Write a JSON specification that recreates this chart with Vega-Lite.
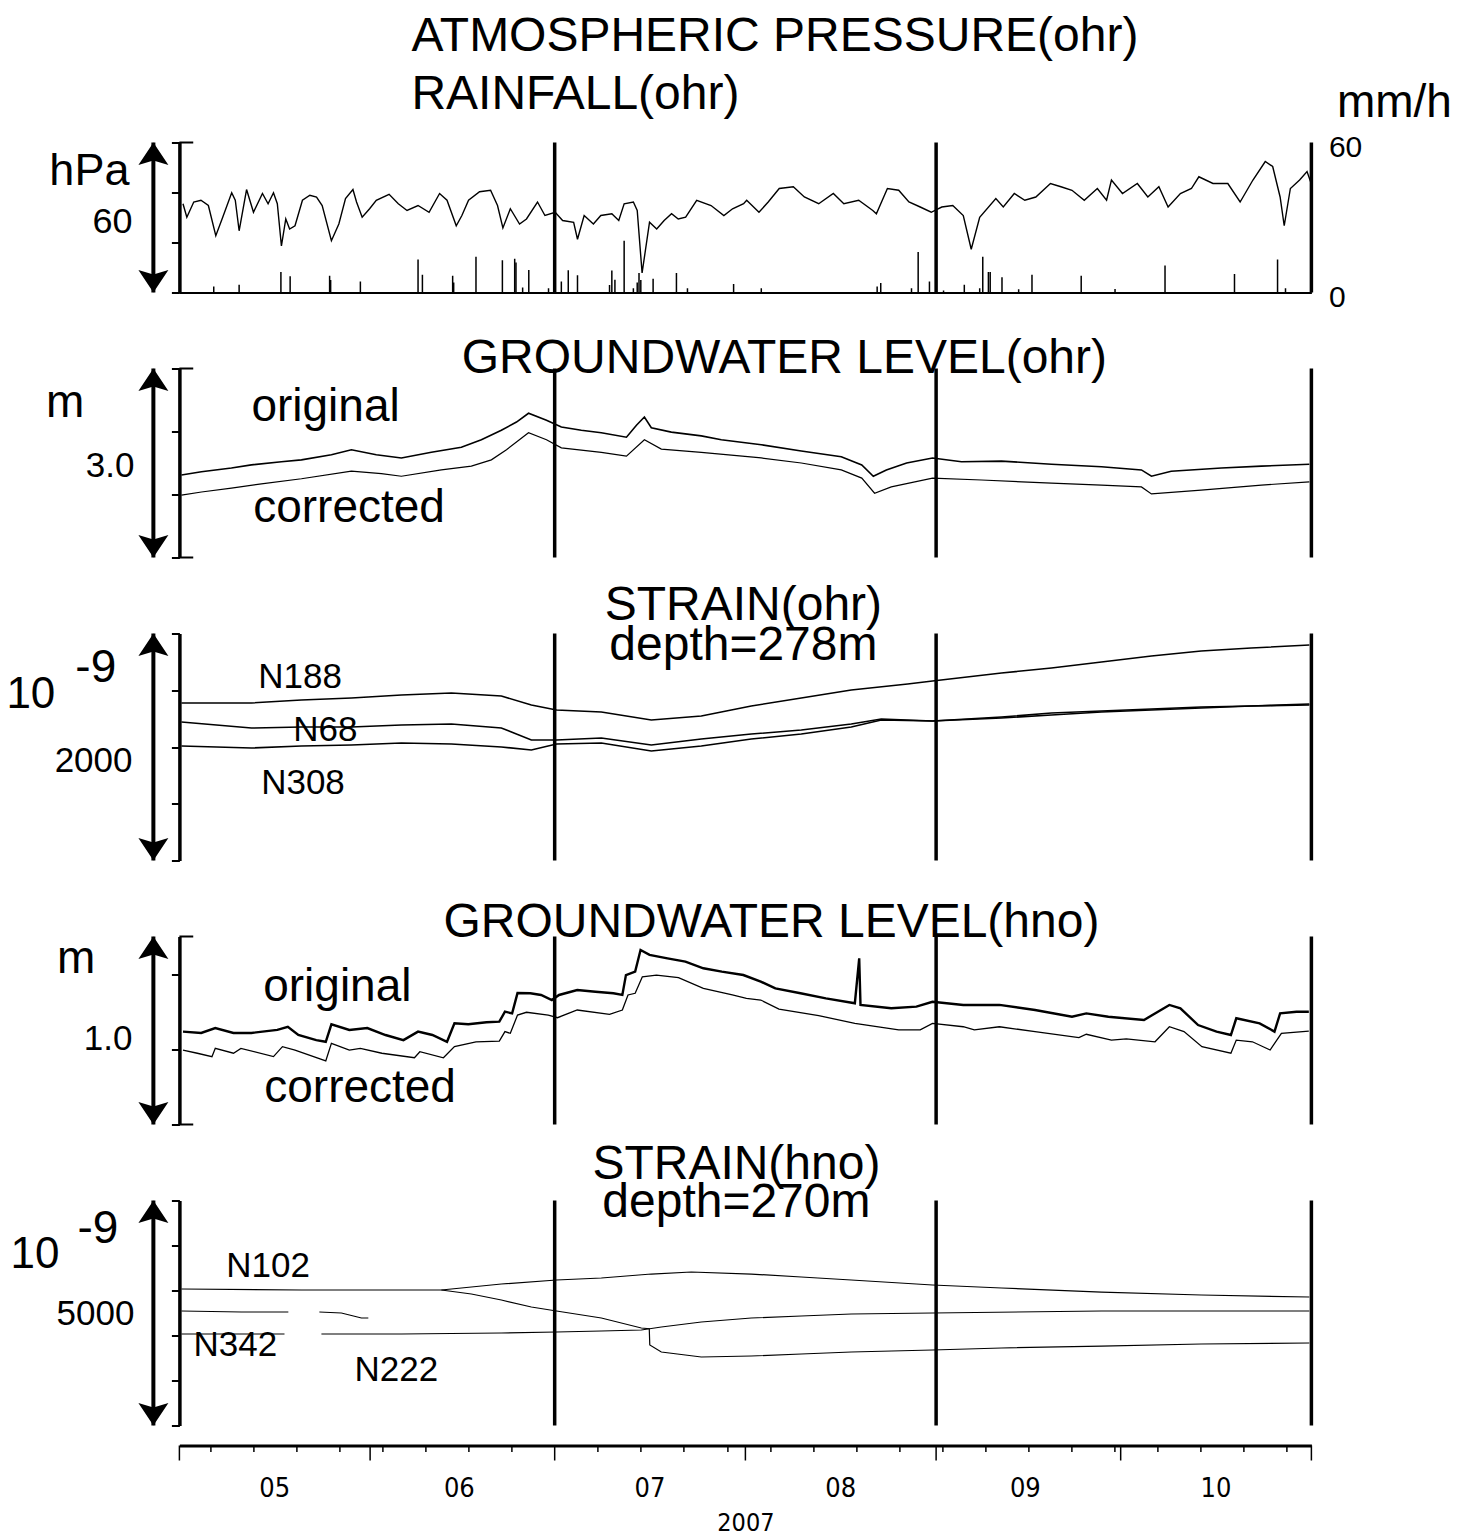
{
"$schema":"https://vega.github.io/schema/vega-lite/v6.json",
"background":"white",
"padding":{"left":5.4,"top":12.5,"right":5,"bottom":5},
"bounds":"flush",
"spacing":76,
"config":{
  "view":{"stroke":null},
  "font":"Liberation Sans",
  "title":{"font":"Liberation Sans","fontSize":48,"fontWeight":"normal","color":"black","frame":"group","baseline":"bottom","anchor":"middle"},
  "axis":{"grid":false,"domainColor":"black","tickColor":"black","labelColor":"black","titleColor":"black","labelFont":"Liberation Sans","titleFont":"Liberation Sans","titleFontWeight":"normal"},
  "axisLeft":{"labels":false,"tickSize":8,"tickWidth":2,"domainWidth":3.5},
  "text":{"color":"black","font":"Liberation Sans"},
  "line":{"color":"black"},
  "rule":{"color":"black"},
  "point":{"color":"black"}
},
"datasets":{
"vl":[{"t":"2007-07-01T00:00"},{"t":"2007-09-01T00:00"},{"t":"2007-11-01T00:00"}],
"mon":[{"t":"2007-05-01T00:00"},{"t":"2007-06-01T00:00"},{"t":"2007-07-01T00:00"},{"t":"2007-08-01T00:00"},{"t":"2007-09-01T00:00"},{"t":"2007-10-01T00:00"},{"t":"2007-11-01T00:00"}],
"mid":[{"t":"2007-05-16T12:00"},{"t":"2007-06-15T12:00"},{"t":"2007-07-16T12:00"},{"t":"2007-08-16T12:00"},{"t":"2007-09-15T12:00"},{"t":"2007-10-16T12:00"}],
"press":[
{"t":"2007-05-01T14:00","v":1005.5},{"t":"2007-05-02T05:00","v":1000.1},{"t":"2007-05-03T08:00","v":1006.2},{"t":"2007-05-04T12:00","v":1006.9},{"t":"2007-05-05T17:00","v":1004.8},{"t":"2007-05-06T22:00","v":992.7},{"t":"2007-05-08T01:00","v":1000.1},{"t":"2007-05-09T12:00","v":1009.9},{"t":"2007-05-10T02:00","v":1006.9},{"t":"2007-05-10T17:00","v":994.7},{"t":"2007-05-11T22:00","v":1011.2},{"t":"2007-05-13T01:00","v":1002.1},{"t":"2007-05-14T12:00","v":1009.6},{"t":"2007-05-15T10:00","v":1005.5},{"t":"2007-05-16T07:00","v":1009.9},{"t":"2007-05-16T22:00","v":1005.5},{"t":"2007-05-17T14:00","v":988.6},{"t":"2007-05-18T07:00","v":999.4},{"t":"2007-05-18T22:00","v":995.4},{"t":"2007-05-19T19:00","v":996.7},{"t":"2007-05-21T00:00","v":1006.9},{"t":"2007-05-22T05:00","v":1008.9},{"t":"2007-05-23T07:00","v":1008.2},{"t":"2007-05-24T05:00","v":1004.8},{"t":"2007-05-25T17:00","v":990.7},{"t":"2007-05-26T22:00","v":997.4},{"t":"2007-05-28T00:00","v":1007.6},{"t":"2007-05-29T05:00","v":1011.2},{"t":"2007-05-29T19:00","v":1006.2},{"t":"2007-05-30T17:00","v":1000.1},{"t":"2007-05-31T22:00","v":1003.5},
{"t":"2007-06-02T00:00","v":1006.9},{"t":"2007-06-04T02:00","v":1009.3},{"t":"2007-06-05T14:00","v":1005.5},{"t":"2007-06-07T00:00","v":1002.8},{"t":"2007-06-08T19:00","v":1004.8},{"t":"2007-06-10T14:00","v":1002.1},{"t":"2007-06-12T07:00","v":1009.6},{"t":"2007-06-13T12:00","v":1006.9},{"t":"2007-06-15T00:00","v":996.7},{"t":"2007-06-15T22:00","v":1000.8},{"t":"2007-06-17T00:00","v":1006.9},{"t":"2007-06-18T19:00","v":1010.3},{"t":"2007-06-20T14:00","v":1010.9},{"t":"2007-06-21T17:00","v":1004.8},{"t":"2007-06-22T14:00","v":995.8},{"t":"2007-06-23T19:00","v":1003.5},{"t":"2007-06-25T07:00","v":997.4},{"t":"2007-06-26T10:00","v":999.4},{"t":"2007-06-28T05:00","v":1006.2},{"t":"2007-06-29T10:00","v":1000.8},
{"t":"2007-07-01T02:00","v":1002.1},{"t":"2007-07-02T07:00","v":998.8},{"t":"2007-07-04T02:00","v":998.1},{"t":"2007-07-04T17:00","v":991.3},{"t":"2007-07-05T19:00","v":1000.8},{"t":"2007-07-07T07:00","v":997.4},{"t":"2007-07-08T12:00","v":1000.8},{"t":"2007-07-10T07:00","v":1001.5},{"t":"2007-07-11T10:00","v":998.8},{"t":"2007-07-12T07:00","v":1005.5},{"t":"2007-07-13T19:00","v":1006.2},{"t":"2007-07-14T10:00","v":1002.8},{"t":"2007-07-15T05:00","v":977.8},{"t":"2007-07-16T10:00","v":998.1},{"t":"2007-07-17T14:00","v":995.4},{"t":"2007-07-18T19:00","v":998.8},{"t":"2007-07-20T00:00","v":1001.5},{"t":"2007-07-21T02:00","v":999.4},{"t":"2007-07-22T07:00","v":1000.1},{"t":"2007-07-24T02:00","v":1006.9},{"t":"2007-07-26T10:00","v":1004.8},{"t":"2007-07-28T12:00","v":1000.8},{"t":"2007-07-29T22:00","v":1003.5},{"t":"2007-07-31T17:00","v":1005.5},
{"t":"2007-08-01T05:00","v":1006.9},{"t":"2007-08-03T05:00","v":1002.1},{"t":"2007-08-04T17:00","v":1006.2},{"t":"2007-08-06T12:00","v":1011.6},{"t":"2007-08-08T19:00","v":1012.3},{"t":"2007-08-10T14:00","v":1008.2},{"t":"2007-08-12T22:00","v":1005.5},{"t":"2007-08-15T07:00","v":1009.6},{"t":"2007-08-17T00:00","v":1005.5},{"t":"2007-08-19T10:00","v":1006.9},{"t":"2007-08-21T17:00","v":1002.8},{"t":"2007-08-22T07:00","v":1001.5},{"t":"2007-08-24T02:00","v":1011.6},{"t":"2007-08-25T22:00","v":1010.9},{"t":"2007-08-27T14:00","v":1006.2},{"t":"2007-08-29T10:00","v":1004.2},{"t":"2007-08-31T05:00","v":1002.1},
{"t":"2007-09-01T22:00","v":1004.2},{"t":"2007-09-03T17:00","v":1004.8},{"t":"2007-09-05T10:00","v":1000.8},{"t":"2007-09-06T17:00","v":987.3},{"t":"2007-09-08T02:00","v":1000.1},{"t":"2007-09-10T17:00","v":1007.6},{"t":"2007-09-11T22:00","v":1004.2},{"t":"2007-09-13T17:00","v":1009.6},{"t":"2007-09-15T10:00","v":1006.9},{"t":"2007-09-17T05:00","v":1008.2},{"t":"2007-09-19T14:00","v":1013.6},{"t":"2007-09-21T07:00","v":1012.3},{"t":"2007-09-23T02:00","v":1010.9},{"t":"2007-09-25T02:00","v":1006.9},{"t":"2007-09-27T05:00","v":1011.6},{"t":"2007-09-28T17:00","v":1006.9},{"t":"2007-09-29T12:00","v":1015},
{"t":"2007-10-01T07:00","v":1009.6},{"t":"2007-10-03T17:00","v":1013.6},{"t":"2007-10-05T10:00","v":1008.2},{"t":"2007-10-07T05:00","v":1012.3},{"t":"2007-10-08T17:00","v":1004.2},{"t":"2007-10-10T17:00","v":1009.6},{"t":"2007-10-12T12:00","v":1011.6},{"t":"2007-10-13T17:00","v":1016.3},{"t":"2007-10-16T00:00","v":1013.6},{"t":"2007-10-18T10:00","v":1013.6},{"t":"2007-10-20T10:00","v":1006.2},{"t":"2007-10-22T12:00","v":1015},{"t":"2007-10-24T12:00","v":1022.4},{"t":"2007-10-25T17:00","v":1020.4},{"t":"2007-10-26T22:00","v":1008.2},{"t":"2007-10-27T14:00","v":996.7},{"t":"2007-10-28T14:00","v":1011.6},{"t":"2007-10-30T02:00","v":1015},{"t":"2007-10-31T07:00","v":1018.4},{"t":"2007-10-31T22:00","v":1014}
],
"rain":[
{"t":"2007-05-06T14:00","v":2.4},{"t":"2007-05-10T17:00","v":3.1},{"t":"2007-05-17T12:00","v":8.2},{"t":"2007-05-19T00:00","v":6.5},{"t":"2007-05-25T10:00","v":6.7},{"t":"2007-05-25T14:00","v":5},{"t":"2007-05-30T10:00","v":4.4},{"t":"2007-06-08T19:00","v":13.2},{"t":"2007-06-09T12:00","v":7.1},{"t":"2007-06-14T10:00","v":6.7},{"t":"2007-06-14T14:00","v":4},{"t":"2007-06-18T05:00","v":14.3},{"t":"2007-06-22T12:00","v":12.9},{"t":"2007-06-24T12:00","v":13.5},{"t":"2007-06-24T17:00","v":12},{"t":"2007-06-25T19:00","v":2},{"t":"2007-06-26T19:00","v":9},{"t":"2007-06-30T00:00","v":1.7},{"t":"2007-07-02T02:00","v":4.4},{"t":"2007-07-03T05:00","v":8.9},{"t":"2007-07-04T17:00","v":6.9},{"t":"2007-07-09T22:00","v":3},{"t":"2007-07-10T07:00","v":8.8},{"t":"2007-07-10T19:00","v":5.1},{"t":"2007-07-12T07:00","v":20.7},{"t":"2007-07-13T19:00","v":1.7},{"t":"2007-07-14T10:00","v":4},{"t":"2007-07-14T17:00","v":7.8},{"t":"2007-07-15T00:00","v":5},{"t":"2007-07-17T00:00","v":5.5},{"t":"2007-07-20T19:00","v":7.8},{"t":"2007-07-22T14:00","v":1.7},{"t":"2007-07-30T02:00","v":3.4},{"t":"2007-08-03T14:00","v":1.7},{"t":"2007-08-22T10:00","v":2.4},{"t":"2007-08-23T00:00","v":3.8},{"t":"2007-08-28T00:00","v":1.7},{"t":"2007-08-29T02:00","v":16.2},{"t":"2007-08-30T22:00","v":4.4},{"t":"2007-09-02T05:00","v":0.8},{"t":"2007-09-05T14:00","v":3.1},{"t":"2007-09-08T02:00","v":1.7},{"t":"2007-09-08T14:00","v":14.3},{"t":"2007-09-09T12:00","v":8.2},{"t":"2007-09-09T19:00","v":8.2},{"t":"2007-09-11T17:00","v":6.1},{"t":"2007-09-14T10:00","v":1.3},{"t":"2007-09-16T14:00","v":7.1},{"t":"2007-09-24T14:00","v":6.7},{"t":"2007-09-30T02:00","v":1.4},{"t":"2007-10-08T05:00","v":10.8},{"t":"2007-10-19T12:00","v":7.4},{"t":"2007-10-26T12:00","v":13.2},{"t":"2007-10-27T19:00","v":1.7}
],
"gwo":[
{"s":"original","t":"2007-05-01T08:00","v":1.31},{"s":"original","t":"2007-05-04T14:00","v":1.36},{"s":"original","t":"2007-05-09T11:00","v":1.42},{"s":"original","t":"2007-05-12T17:00","v":1.47},{"s":"original","t":"2007-05-17T14:00","v":1.52},{"s":"original","t":"2007-05-20T20:00","v":1.55},{"s":"original","t":"2007-05-25T17:00","v":1.63},{"s":"original","t":"2007-05-28T23:00","v":1.71},{"s":"original","t":"2007-06-02T00:00","v":1.63},{"s":"original","t":"2007-06-06T02:00","v":1.58},{"s":"original","t":"2007-06-10T23:00","v":1.67},{"s":"original","t":"2007-06-15T20:00","v":1.75},{"s":"original","t":"2007-06-19T02:00","v":1.87},{"s":"original","t":"2007-06-22T08:00","v":2.02},{"s":"original","t":"2007-06-24T19:00","v":2.15},{"s":"original","t":"2007-06-26T18:00","v":2.29},{"s":"original","t":"2007-06-29T16:00","v":2.18},{"s":"original","t":"2007-07-02T02:00","v":2.07},{"s":"original","t":"2007-07-05T08:00","v":2.02},{"s":"original","t":"2007-07-08T14:00","v":1.98},{"s":"original","t":"2007-07-12T16:00","v":1.91},{"s":"original","t":"2007-07-14T07:00","v":2.10},{"s":"original","t":"2007-07-15T14:00","v":2.23},{"s":"original","t":"2007-07-16T17:00","v":2.06},{"s":"original","t":"2007-07-19T23:00","v":1.99},{"s":"original","t":"2007-07-24T20:00","v":1.93},{"s":"original","t":"2007-07-28T02:00","v":1.87},{"s":"original","t":"2007-08-03T14:00","v":1.79},{"s":"original","t":"2007-08-10T02:00","v":1.69},{"s":"original","t":"2007-08-16T14:00","v":1.60},{"s":"original","t":"2007-08-19T22:00","v":1.47},{"s":"original","t":"2007-08-21T19:00","v":1.29},{"s":"original","t":"2007-08-23T22:00","v":1.39},{"s":"original","t":"2007-08-27T05:00","v":1.50},{"s":"original","t":"2007-08-31T10:00","v":1.58},{"s":"original","t":"2007-09-05T03:00","v":1.52},{"s":"original","t":"2007-09-11T15:00","v":1.53},{"s":"original","t":"2007-09-19T18:00","v":1.48},{"s":"original","t":"2007-09-27T21:00","v":1.44},{"s":"original","t":"2007-10-04T09:00","v":1.39},{"s":"original","t":"2007-10-06T00:00","v":1.29},{"s":"original","t":"2007-10-09T05:00","v":1.37},{"s":"original","t":"2007-10-17T09:00","v":1.42},{"s":"original","t":"2007-10-23T21:00","v":1.45},{"s":"original","t":"2007-10-31T16:00","v":1.48},
{"s":"corrected","t":"2007-05-01T08:00","v":0.99},{"s":"corrected","t":"2007-05-04T14:00","v":1.04},{"s":"corrected","t":"2007-05-09T11:00","v":1.10},{"s":"corrected","t":"2007-05-14T08:00","v":1.17},{"s":"corrected","t":"2007-05-20T20:00","v":1.25},{"s":"corrected","t":"2007-05-28T23:00","v":1.37},{"s":"corrected","t":"2007-06-02T20:00","v":1.33},{"s":"corrected","t":"2007-06-06T02:00","v":1.29},{"s":"corrected","t":"2007-06-12T14:00","v":1.39},{"s":"corrected","t":"2007-06-17T11:00","v":1.45},{"s":"corrected","t":"2007-06-20T17:00","v":1.55},{"s":"corrected","t":"2007-06-23T04:00","v":1.71},{"s":"corrected","t":"2007-06-26T18:00","v":1.98},{"s":"corrected","t":"2007-06-29T16:00","v":1.87},{"s":"corrected","t":"2007-07-02T02:00","v":1.74},{"s":"corrected","t":"2007-07-08T14:00","v":1.67},{"s":"corrected","t":"2007-07-12T16:00","v":1.61},{"s":"corrected","t":"2007-07-15T14:00","v":1.87},{"s":"corrected","t":"2007-07-18T08:00","v":1.72},{"s":"corrected","t":"2007-07-24T20:00","v":1.67},{"s":"corrected","t":"2007-08-03T14:00","v":1.58},{"s":"corrected","t":"2007-08-10T02:00","v":1.50},{"s":"corrected","t":"2007-08-16T14:00","v":1.39},{"s":"corrected","t":"2007-08-19T22:00","v":1.26},{"s":"corrected","t":"2007-08-22T00:00","v":1.02},{"s":"corrected","t":"2007-08-24T17:00","v":1.12},{"s":"corrected","t":"2007-08-31T10:00","v":1.26},{"s":"corrected","t":"2007-09-08T09:00","v":1.23},{"s":"corrected","t":"2007-09-19T18:00","v":1.18},{"s":"corrected","t":"2007-09-27T21:00","v":1.15},{"s":"corrected","t":"2007-10-04T09:00","v":1.12},{"s":"corrected","t":"2007-10-06T00:00","v":1.01},{"s":"corrected","t":"2007-10-14T02:00","v":1.07},{"s":"corrected","t":"2007-10-23T21:00","v":1.15},{"s":"corrected","t":"2007-10-31T16:00","v":1.20}
],
"sto":[
{"s":"N188","t":"2007-05-01T08:00","v":1388},{"s":"N188","t":"2007-05-12T17:00","v":1388},{"s":"N188","t":"2007-05-20T20:00","v":1414},{"s":"N188","t":"2007-05-28T23:00","v":1432},{"s":"N188","t":"2007-06-06T02:00","v":1458},{"s":"N188","t":"2007-06-14T05:00","v":1476},{"s":"N188","t":"2007-06-22T08:00","v":1449},{"s":"N188","t":"2007-06-27T05:00","v":1370},{"s":"N188","t":"2007-07-01T07:00","v":1326},{"s":"N188","t":"2007-07-08T14:00","v":1308},{"s":"N188","t":"2007-07-16T17:00","v":1238},{"s":"N188","t":"2007-07-24T20:00","v":1273},{"s":"N188","t":"2007-08-01T23:00","v":1361},{"s":"N188","t":"2007-08-10T02:00","v":1432},{"s":"N188","t":"2007-08-18T05:00","v":1502},{"s":"N188","t":"2007-08-27T09:00","v":1555},{"s":"N188","t":"2007-08-31T10:00","v":1581},{"s":"N188","t":"2007-09-11T15:00","v":1652},{"s":"N188","t":"2007-09-19T18:00","v":1696},{"s":"N188","t":"2007-09-27T21:00","v":1749},{"s":"N188","t":"2007-10-06T00:00","v":1802},{"s":"N188","t":"2007-10-14T02:00","v":1846},{"s":"N188","t":"2007-10-22T05:00","v":1872},{"s":"N188","t":"2007-10-31T16:00","v":1899},
{"s":"N68","t":"2007-05-01T08:00","v":1220},{"s":"N68","t":"2007-05-12T17:00","v":1167},{"s":"N68","t":"2007-05-20T20:00","v":1176},{"s":"N68","t":"2007-05-28T23:00","v":1176},{"s":"N68","t":"2007-06-06T02:00","v":1194},{"s":"N68","t":"2007-06-14T05:00","v":1203},{"s":"N68","t":"2007-06-22T08:00","v":1167},{"s":"N68","t":"2007-06-27T05:00","v":1062},{"s":"N68","t":"2007-07-01T07:00","v":1062},{"s":"N68","t":"2007-07-08T14:00","v":1079},{"s":"N68","t":"2007-07-16T17:00","v":1018},{"s":"N68","t":"2007-07-24T20:00","v":1070},{"s":"N68","t":"2007-08-01T23:00","v":1114},{"s":"N68","t":"2007-08-10T02:00","v":1150},{"s":"N68","t":"2007-08-18T05:00","v":1203},{"s":"N68","t":"2007-08-23T02:00","v":1247},{"s":"N68","t":"2007-08-31T10:00","v":1229},{"s":"N68","t":"2007-09-11T15:00","v":1256},{"s":"N68","t":"2007-09-19T18:00","v":1282},{"s":"N68","t":"2007-09-27T21:00","v":1308},{"s":"N68","t":"2007-10-06T00:00","v":1326},{"s":"N68","t":"2007-10-14T02:00","v":1344},{"s":"N68","t":"2007-10-22T05:00","v":1361},{"s":"N68","t":"2007-10-31T16:00","v":1379},
{"s":"N308","t":"2007-05-01T08:00","v":1009},{"s":"N308","t":"2007-05-12T17:00","v":991},{"s":"N308","t":"2007-05-20T20:00","v":1009},{"s":"N308","t":"2007-05-28T23:00","v":1018},{"s":"N308","t":"2007-06-06T02:00","v":1035},{"s":"N308","t":"2007-06-14T05:00","v":1026},{"s":"N308","t":"2007-06-22T08:00","v":1000},{"s":"N308","t":"2007-06-27T05:00","v":974},{"s":"N308","t":"2007-07-01T07:00","v":1026},{"s":"N308","t":"2007-07-08T14:00","v":1035},{"s":"N308","t":"2007-07-16T17:00","v":965},{"s":"N308","t":"2007-07-24T20:00","v":1009},{"s":"N308","t":"2007-08-01T23:00","v":1070},{"s":"N308","t":"2007-08-10T02:00","v":1114},{"s":"N308","t":"2007-08-18T05:00","v":1176},{"s":"N308","t":"2007-08-23T02:00","v":1238},{"s":"N308","t":"2007-08-31T10:00","v":1229},{"s":"N308","t":"2007-09-11T15:00","v":1264},{"s":"N308","t":"2007-09-19T18:00","v":1299},{"s":"N308","t":"2007-09-27T21:00","v":1317},{"s":"N308","t":"2007-10-06T00:00","v":1335},{"s":"N308","t":"2007-10-14T02:00","v":1352},{"s":"N308","t":"2007-10-22T05:00","v":1361},{"s":"N308","t":"2007-10-31T16:00","v":1370}
],
"gwh":[
{"s":"original","t":"2007-05-01T14:00","v":0.494},{"s":"original","t":"2007-05-04T13:00","v":0.487},{"s":"original","t":"2007-05-06T20:00","v":0.513},{"s":"original","t":"2007-05-09T19:00","v":0.487},{"s":"original","t":"2007-05-12T17:00","v":0.487},{"s":"original","t":"2007-05-16T22:00","v":0.503},{"s":"original","t":"2007-05-18T15:00","v":0.520},{"s":"original","t":"2007-05-20T08:00","v":0.476},{"s":"original","t":"2007-05-23T06:00","v":0.449},{"s":"original","t":"2007-05-24T19:00","v":0.440},{"s":"original","t":"2007-05-25T17:00","v":0.533},{"s":"original","t":"2007-05-28T15:00","v":0.503},{"s":"original","t":"2007-05-31T13:00","v":0.513},{"s":"original","t":"2007-06-03T12:00","v":0.476},{"s":"original","t":"2007-06-06T10:00","v":0.449},{"s":"original","t":"2007-06-08T19:00","v":0.494},{"s":"original","t":"2007-06-11T03:00","v":0.476},{"s":"original","t":"2007-06-13T12:00","v":0.440},{"s":"original","t":"2007-06-14T17:00","v":0.538},{"s":"original","t":"2007-06-16T23:00","v":0.533},{"s":"original","t":"2007-06-19T22:00","v":0.544},{"s":"original","t":"2007-06-22T00:00","v":0.547},{"s":"original","t":"2007-06-22T22:00","v":0.600},{"s":"original","t":"2007-06-24T02:00","v":0.591},{"s":"original","t":"2007-06-24T23:00","v":0.699},{"s":"original","t":"2007-06-27T01:00","v":0.698},{"s":"original","t":"2007-06-28T19:00","v":0.689},{"s":"original","t":"2007-06-30T13:00","v":0.662},{"s":"original","t":"2007-07-01T17:00","v":0.689},{"s":"original","t":"2007-07-04T16:00","v":0.715},{"s":"original","t":"2007-07-07T15:00","v":0.706},{"s":"original","t":"2007-07-10T13:00","v":0.698},{"s":"original","t":"2007-07-12T00:00","v":0.689},{"s":"original","t":"2007-07-12T14:00","v":0.795},{"s":"original","t":"2007-07-14T02:00","v":0.813},{"s":"original","t":"2007-07-14T23:00","v":0.928},{"s":"original","t":"2007-07-16T10:00","v":0.902},{"s":"original","t":"2007-07-19T08:00","v":0.884},{"s":"original","t":"2007-07-22T06:00","v":0.866},{"s":"original","t":"2007-07-25T04:00","v":0.831},{"s":"original","t":"2007-07-28T04:00","v":0.813},{"s":"original","t":"2007-07-31T16:00","v":0.795},{"s":"original","t":"2007-08-03T12:00","v":0.760},{"s":"original","t":"2007-08-05T21:00","v":0.724},{"s":"original","t":"2007-08-09T23:00","v":0.698},{"s":"original","t":"2007-08-14T02:00","v":0.671},{"s":"original","t":"2007-08-18T19:00","v":0.645},{"s":"original","t":"2007-08-19T12:00","v":0.884},{"s":"original","t":"2007-08-19T17:00","v":0.636},{"s":"original","t":"2007-08-24T17:00","v":0.618},{"s":"original","t":"2007-08-28T19:00","v":0.627},{"s":"original","t":"2007-08-31T10:00","v":0.653},{"s":"original","t":"2007-09-05T10:00","v":0.636},{"s":"original","t":"2007-09-11T07:00","v":0.636},{"s":"original","t":"2007-09-17T02:00","v":0.609},{"s":"original","t":"2007-09-23T02:00","v":0.573},{"s":"original","t":"2007-09-25T10:00","v":0.591},{"s":"original","t":"2007-09-29T00:00","v":0.573},{"s":"original","t":"2007-10-04T19:00","v":0.556},{"s":"original","t":"2007-10-08T22:00","v":0.636},{"s":"original","t":"2007-10-10T17:00","v":0.618},{"s":"original","t":"2007-10-13T14:00","v":0.529},{"s":"original","t":"2007-10-16T14:00","v":0.494},{"s":"original","t":"2007-10-18T22:00","v":0.476},{"s":"original","t":"2007-10-19T19:00","v":0.565},{"s":"original","t":"2007-10-23T14:00","v":0.538},{"s":"original","t":"2007-10-26T00:00","v":0.494},{"s":"original","t":"2007-10-26T22:00","v":0.591},{"s":"original","t":"2007-10-29T14:00","v":0.600},{"s":"original","t":"2007-10-31T14:00","v":0.600},
{"s":"corrected","t":"2007-05-01T14:00","v":0.396},{"s":"corrected","t":"2007-05-03T22:00","v":0.379},{"s":"corrected","t":"2007-05-06T07:00","v":0.361},{"s":"corrected","t":"2007-05-06T20:00","v":0.405},{"s":"corrected","t":"2007-05-09T19:00","v":0.379},{"s":"corrected","t":"2007-05-11T00:00","v":0.405},{"s":"corrected","t":"2007-05-16T07:00","v":0.361},{"s":"corrected","t":"2007-05-17T18:00","v":0.414},{"s":"corrected","t":"2007-05-19T19:00","v":0.396},{"s":"corrected","t":"2007-05-24T19:00","v":0.338},{"s":"corrected","t":"2007-05-25T17:00","v":0.432},{"s":"corrected","t":"2007-05-28T15:00","v":0.396},{"s":"corrected","t":"2007-05-30T10:00","v":0.405},{"s":"corrected","t":"2007-06-02T22:00","v":0.379},{"s":"corrected","t":"2007-06-08T05:00","v":0.355},{"s":"corrected","t":"2007-06-09T02:00","v":0.387},{"s":"corrected","t":"2007-06-12T22:00","v":0.355},{"s":"corrected","t":"2007-06-14T17:00","v":0.414},{"s":"corrected","t":"2007-06-18T05:00","v":0.440},{"s":"corrected","t":"2007-06-22T00:00","v":0.444},{"s":"corrected","t":"2007-06-22T22:00","v":0.494},{"s":"corrected","t":"2007-06-23T19:00","v":0.485},{"s":"corrected","t":"2007-06-24T23:00","v":0.582},{"s":"corrected","t":"2007-06-26T10:00","v":0.597},{"s":"corrected","t":"2007-06-29T23:00","v":0.582},{"s":"corrected","t":"2007-07-01T11:00","v":0.568},{"s":"corrected","t":"2007-07-04T16:00","v":0.609},{"s":"corrected","t":"2007-07-09T22:00","v":0.586},{"s":"corrected","t":"2007-07-12T00:00","v":0.609},{"s":"corrected","t":"2007-07-12T22:00","v":0.689},{"s":"corrected","t":"2007-07-14T02:00","v":0.698},{"s":"corrected","t":"2007-07-15T06:00","v":0.786},{"s":"corrected","t":"2007-07-17T13:00","v":0.795},{"s":"corrected","t":"2007-07-21T03:00","v":0.781},{"s":"corrected","t":"2007-07-25T04:00","v":0.724},{"s":"corrected","t":"2007-07-29T21:00","v":0.689},{"s":"corrected","t":"2007-08-01T04:00","v":0.671},{"s":"corrected","t":"2007-08-03T12:00","v":0.662},{"s":"corrected","t":"2007-08-06T11:00","v":0.614},{"s":"corrected","t":"2007-08-12T22:00","v":0.579},{"s":"corrected","t":"2007-08-18T19:00","v":0.538},{"s":"corrected","t":"2007-08-25T22:00","v":0.503},{"s":"corrected","t":"2007-08-29T10:00","v":0.503},{"s":"corrected","t":"2007-08-31T10:00","v":0.538},{"s":"corrected","t":"2007-09-05T10:00","v":0.520},{"s":"corrected","t":"2007-09-07T05:00","v":0.503},{"s":"corrected","t":"2007-09-11T07:00","v":0.520},{"s":"corrected","t":"2007-09-17T02:00","v":0.494},{"s":"corrected","t":"2007-09-24T05:00","v":0.462},{"s":"corrected","t":"2007-09-25T10:00","v":0.480},{"s":"corrected","t":"2007-09-29T12:00","v":0.449},{"s":"corrected","t":"2007-10-01T22:00","v":0.455},{"s":"corrected","t":"2007-10-06T14:00","v":0.440},{"s":"corrected","t":"2007-10-08T22:00","v":0.520},{"s":"corrected","t":"2007-10-11T07:00","v":0.494},{"s":"corrected","t":"2007-10-14T05:00","v":0.414},{"s":"corrected","t":"2007-10-18T22:00","v":0.379},{"s":"corrected","t":"2007-10-19T19:00","v":0.449},{"s":"corrected","t":"2007-10-22T10:00","v":0.440},{"s":"corrected","t":"2007-10-25T07:00","v":0.396},{"s":"corrected","t":"2007-10-27T03:00","v":0.485},{"s":"corrected","t":"2007-10-31T14:00","v":0.497}
],
"sth":[
{"s":"N102","p":1,"t":"2007-05-01T08:00","v":3033},{"s":"N102","p":1,"t":"2007-05-20T20:00","v":3011},{"s":"N102","p":1,"t":"2007-06-12T14:00","v":3011},{"s":"N102","p":1,"t":"2007-06-22T08:00","v":3144},{"s":"N102","p":1,"t":"2007-07-01T07:00","v":3233},{"s":"N102","p":1,"t":"2007-07-08T14:00","v":3278},{"s":"N102","p":1,"t":"2007-07-16T17:00","v":3366},{"s":"N102","p":1,"t":"2007-07-23T05:00","v":3411},{"s":"N102","p":1,"t":"2007-08-01T23:00","v":3366},{"s":"N102","p":1,"t":"2007-08-10T02:00","v":3300},{"s":"N102","p":1,"t":"2007-08-18T05:00","v":3233},{"s":"N102","p":1,"t":"2007-08-31T10:00","v":3122},{"s":"N102","p":1,"t":"2007-09-11T15:00","v":3055},{"s":"N102","p":1,"t":"2007-09-27T21:00","v":2966},{"s":"N102","p":1,"t":"2007-10-14T02:00","v":2900},{"s":"N102","p":1,"t":"2007-10-31T16:00","v":2855},
{"s":"N342","p":1,"t":"2007-05-01T08:00","v":2544},{"s":"N342","p":1,"t":"2007-05-11T02:00","v":2522},{"s":"N342","p":1,"t":"2007-05-18T17:00","v":2522},
{"s":"N342","p":2,"t":"2007-05-23T18:00","v":2522},{"s":"N342","p":2,"t":"2007-05-27T08:00","v":2500},{"s":"N342","p":2,"t":"2007-05-29T07:00","v":2433},{"s":"N342","p":2,"t":"2007-05-30T14:00","v":2389},{"s":"N342","p":2,"t":"2007-05-31T17:00","v":2389},
{"s":"N342","p":3,"t":"2007-06-12T14:00","v":3011},{"s":"N342","p":3,"t":"2007-06-17T11:00","v":2922},{"s":"N342","p":3,"t":"2007-06-22T08:00","v":2789},{"s":"N342","p":3,"t":"2007-06-27T05:00","v":2633},{"s":"N342","p":3,"t":"2007-07-01T07:00","v":2544},{"s":"N342","p":3,"t":"2007-07-08T14:00","v":2389},{"s":"N342","p":3,"t":"2007-07-15T02:00","v":2167},{"s":"N342","p":3,"t":"2007-07-16T09:00","v":2150},{"s":"N342","p":3,"t":"2007-07-16T11:00","v":1789},{"s":"N342","p":3,"t":"2007-07-18T08:00","v":1633},{"s":"N342","p":3,"t":"2007-07-24T20:00","v":1522},{"s":"N342","p":3,"t":"2007-08-01T23:00","v":1544},{"s":"N342","p":3,"t":"2007-08-10T02:00","v":1589},{"s":"N342","p":3,"t":"2007-08-18T05:00","v":1633},{"s":"N342","p":3,"t":"2007-08-31T10:00","v":1678},{"s":"N342","p":3,"t":"2007-09-11T15:00","v":1722},{"s":"N342","p":3,"t":"2007-09-27T21:00","v":1766},{"s":"N342","p":3,"t":"2007-10-14T02:00","v":1811},{"s":"N342","p":3,"t":"2007-10-31T16:00","v":1833},
{"s":"N222","p":1,"t":"2007-05-01T08:00","v":2033},{"s":"N222","p":1,"t":"2007-05-09T11:00","v":2033},{"s":"N222","p":1,"t":"2007-05-18T02:00","v":2033},
{"s":"N222","p":2,"t":"2007-05-24T02:00","v":2033},{"s":"N222","p":2,"t":"2007-06-06T02:00","v":2033},{"s":"N222","p":2,"t":"2007-06-22T08:00","v":2055},{"s":"N222","p":2,"t":"2007-07-01T07:00","v":2078},{"s":"N222","p":2,"t":"2007-07-08T14:00","v":2100},{"s":"N222","p":2,"t":"2007-07-15T02:00","v":2122},{"s":"N222","p":2,"t":"2007-07-18T08:00","v":2189},{"s":"N222","p":2,"t":"2007-07-24T20:00","v":2300},{"s":"N222","p":2,"t":"2007-08-01T23:00","v":2389},{"s":"N222","p":2,"t":"2007-08-10T02:00","v":2433},{"s":"N222","p":2,"t":"2007-08-18T05:00","v":2478},{"s":"N222","p":2,"t":"2007-08-31T10:00","v":2500},{"s":"N222","p":2,"t":"2007-09-27T21:00","v":2544},{"s":"N222","p":2,"t":"2007-10-31T16:00","v":2544}
]
},
"vconcat":[
{
 "width":1132,"height":150,
 "title":{"text":["ATMOSPHERIC PRESSURE(ohr)","RAINFALL(ohr)"],"anchor":"start","dx":232,"offset":-39.5,"lineHeight":58},
 "layer":[
   {"data":{"name":"press"},"mark":{"type":"line","strokeWidth":1.4},
    "encoding":{"x":{"field":"t","type":"temporal","scale":{"domain":[{"year":2007,"month":5,"date":1},{"year":2007,"month":11,"date":1}]},"axis":{"title":null,"labels":false,"ticks":false,"domain":true,"domainWidth":2}},
                "y":{"field":"v","type":"quantitative","scale":{"domain":[970,1030]},"axis":{"title":null,"values":[970,990,1010,1030]}}}},
   {"data":{"name":"rain"},"mark":{"type":"rule","strokeWidth":1.5},
    "encoding":{"x":{"field":"t","type":"temporal"},
               "y":{"field":"v","type":"quantitative","scale":{"domain":[0,60]},"axis":{"orient":"right","title":"mm/h","values":[0,60],"ticks":false,"domain":false,"labelFontSize":30,"labelPadding":17,"labelBaseline":"middle","labelOffset":5,"titleAngle":0,"titleAlign":"left","titleBaseline":"middle","titleX":25,"titleY":-40,"titleFontSize":46}},
               "y2":{"datum":0}}},
   {"data":{"name":"vl"},"mark":{"type":"rule","strokeWidth":3.5},"encoding":{"x":{"field":"t","type":"temporal"}}},
   {"data":{"values":[{}]},"mark":{"type":"rule","strokeWidth":2},"encoding":{"x":{"datum":{"year":2007,"month":5,"date":1},"type":"temporal"},"x2":{"datum":{"year":2007,"month":5,"date":3,"hours":6}},"y":{"datum":1030,"scale":{"domain":[970,1030]},"axis":null}}},
   {"data":{"values":[{}]},"mark":{"type":"rule","strokeWidth":4},"encoding":{"x":{"datum":{"year":2007,"month":4,"date":26,"hours":18,"minutes":30},"type":"temporal"},"y":{"datum":970,"scale":{"domain":[970,1030]},"axis":null},"y2":{"datum":1030}}},
   {"data":{"values":[{}]},"mark":{"type":"point","shape":"M0,0L1,1.5L0,1.2L-1,1.5Z","size":900,"filled":true,"opacity":1,"strokeWidth":0},"encoding":{"x":{"datum":{"year":2007,"month":4,"date":26,"hours":18,"minutes":30},"type":"temporal"},"y":{"datum":1030,"scale":{"domain":[970,1030]},"axis":null}}},
   {"data":{"values":[{}]},"mark":{"type":"point","shape":"M0,0L1,-1.5L0,-1.2L-1,-1.5Z","size":900,"filled":true,"opacity":1,"strokeWidth":0},"encoding":{"x":{"datum":{"year":2007,"month":4,"date":26,"hours":18,"minutes":30},"type":"temporal"},"y":{"datum":970,"scale":{"domain":[970,1030]},"axis":null}}},
   {"data":{"values":[{}]},"mark":{"type":"text","text":"hPa","fontSize":45,"align":"right","baseline":"alphabetic"},"encoding":{"x":{"datum":{"year":2007,"month":4,"date":22,"hours":21},"type":"temporal"},"y":{"datum":1013,"scale":{"domain":[970,1030]},"axis":null}}},
   {"data":{"values":[{}]},"mark":{"type":"text","text":"60","fontSize":36,"align":"right","baseline":"alphabetic"},"encoding":{"x":{"datum":{"year":2007,"month":4,"date":23,"hours":9},"type":"temporal"},"y":{"datum":993.8,"scale":{"domain":[970,1030]},"axis":null}}}
 ],
 "resolve":{"scale":{"y":"independent"}}
},
{
 "width":1132,"height":189,
 "title":{"text":"GROUNDWATER LEVEL(ohr)","dx":39,"offset":-16.5},
 "layer":[
  {"data":{"name":"gwo"},"transform":[{"filter":"datum.s == 'original'"}],"mark":{"type":"line","strokeWidth":1.6},
   "encoding":{"x":{"field":"t","type":"temporal","scale":{"domain":[{"year":2007,"month":5,"date":1},{"year":2007,"month":11,"date":1}]},"axis":null},
               "y":{"field":"v","type":"quantitative","scale":{"domain":[0,3]},"axis":{"title":null,"values":[0,1,2,3]}}}},
  {"data":{"name":"gwo"},"transform":[{"filter":"datum.s == 'corrected'"}],"mark":{"type":"line","strokeWidth":1.2},
   "encoding":{"x":{"field":"t","type":"temporal","axis":null},"y":{"field":"v","type":"quantitative"}}},
  {"data":{"name":"vl"},"mark":{"type":"rule","strokeWidth":3.5},"encoding":{"x":{"field":"t","type":"temporal","axis":null}}},
  {"data":{"values":[{}]},"mark":{"type":"rule","strokeWidth":2},"encoding":{"x":{"datum":{"year":2007,"month":5,"date":1},"type":"temporal","axis":null},"x2":{"datum":{"year":2007,"month":5,"date":3,"hours":6}},"y":{"datum":3}}},
  {"data":{"values":[{}]},"mark":{"type":"rule","strokeWidth":2},"encoding":{"x":{"datum":{"year":2007,"month":5,"date":1},"type":"temporal","axis":null},"x2":{"datum":{"year":2007,"month":5,"date":3,"hours":6}},"y":{"datum":0}}},
  {"data":{"values":[{}]},"mark":{"type":"rule","strokeWidth":4},"encoding":{"x":{"datum":{"year":2007,"month":4,"date":26,"hours":18,"minutes":30},"type":"temporal","axis":null},"y":{"datum":0},"y2":{"datum":3}}},
  {"data":{"values":[{}]},"mark":{"type":"point","shape":"M0,0L1,1.5L0,1.2L-1,1.5Z","size":900,"filled":true,"opacity":1,"strokeWidth":0},"encoding":{"x":{"datum":{"year":2007,"month":4,"date":26,"hours":18,"minutes":30},"type":"temporal","axis":null},"y":{"datum":3}}},
  {"data":{"values":[{}]},"mark":{"type":"point","shape":"M0,0L1,-1.5L0,-1.2L-1,-1.5Z","size":900,"filled":true,"opacity":1,"strokeWidth":0},"encoding":{"x":{"datum":{"year":2007,"month":4,"date":26,"hours":18,"minutes":30},"type":"temporal","axis":null},"y":{"datum":0}}},
  {"data":{"values":[{}]},"mark":{"type":"text","text":"m","fontSize":46,"align":"right","baseline":"alphabetic"},"encoding":{"x":{"datum":{"year":2007,"month":4,"date":15,"hours":13},"type":"temporal","axis":null},"y":{"datum":2.23}}},
  {"data":{"values":[{}]},"mark":{"type":"text","text":"3.0","fontSize":35,"align":"right","baseline":"alphabetic"},"encoding":{"x":{"datum":{"year":2007,"month":4,"date":23,"hours":16,"minutes":30},"type":"temporal","axis":null},"y":{"datum":1.28}}},
  {"data":{"values":[{}]},"mark":{"type":"text","text":"original","fontSize":46,"align":"left","baseline":"alphabetic"},"encoding":{"x":{"datum":{"year":2007,"month":5,"date":12,"hours":17},"type":"temporal","axis":null},"y":{"datum":2.17}}},
  {"data":{"values":[{}]},"mark":{"type":"text","text":"corrected","fontSize":46,"align":"left","baseline":"alphabetic"},"encoding":{"x":{"datum":{"year":2007,"month":5,"date":13},"type":"temporal","axis":null},"y":{"datum":0.56}}}
 ]
},
{
 "width":1132,"height":227,
 "title":{"text":["STRAIN(ohr)","depth=278m"],"dx":-2,"offset":-38.5,"lineHeight":40},
 "layer":[
  {"data":{"name":"sto"},"mark":{"type":"line","strokeWidth":1.6},
   "encoding":{"x":{"field":"t","type":"temporal","scale":{"domain":[{"year":2007,"month":5,"date":1},{"year":2007,"month":11,"date":1}]},"axis":null},
               "y":{"field":"v","type":"quantitative","scale":{"domain":[0,2000]},"axis":{"title":null,"values":[0,500,1000,1500,2000]}},
               "detail":{"field":"s"}}},
  {"data":{"name":"vl"},"mark":{"type":"rule","strokeWidth":3.5},"encoding":{"x":{"field":"t","type":"temporal","axis":null}}},
  {"data":{"values":[{}]},"mark":{"type":"rule","strokeWidth":4},"encoding":{"x":{"datum":{"year":2007,"month":4,"date":26,"hours":18,"minutes":30},"type":"temporal","axis":null},"y":{"datum":0},"y2":{"datum":2000}}},
  {"data":{"values":[{}]},"mark":{"type":"point","shape":"M0,0L1,1.5L0,1.2L-1,1.5Z","size":900,"filled":true,"opacity":1,"strokeWidth":0},"encoding":{"x":{"datum":{"year":2007,"month":4,"date":26,"hours":18,"minutes":30},"type":"temporal","axis":null},"y":{"datum":2000}}},
  {"data":{"values":[{}]},"mark":{"type":"point","shape":"M0,0L1,-1.5L0,-1.2L-1,-1.5Z","size":900,"filled":true,"opacity":1,"strokeWidth":0},"encoding":{"x":{"datum":{"year":2007,"month":4,"date":26,"hours":18,"minutes":30},"type":"temporal","axis":null},"y":{"datum":0}}},
  {"data":{"values":[{}]},"mark":{"type":"text","text":"10","fontSize":44,"align":"right","baseline":"alphabetic"},"encoding":{"x":{"datum":{"year":2007,"month":4,"date":10,"hours":20},"type":"temporal","axis":null},"y":{"datum":1343}}},
  {"data":{"values":[{}]},"mark":{"type":"text","text":"-9","fontSize":46,"align":"left","baseline":"alphabetic"},"encoding":{"x":{"datum":{"year":2007,"month":4,"date":14,"hours":2},"type":"temporal","axis":null},"y":{"datum":1573}}},
  {"data":{"values":[{}]},"mark":{"type":"text","text":"2000","fontSize":35,"align":"right","baseline":"alphabetic"},"encoding":{"x":{"datum":{"year":2007,"month":4,"date":23,"hours":9},"type":"temporal","axis":null},"y":{"datum":780}}},
  {"data":{"values":[{}]},"mark":{"type":"text","text":"N188","fontSize":35,"align":"left","baseline":"alphabetic"},"encoding":{"x":{"datum":{"year":2007,"month":5,"date":13,"hours":20},"type":"temporal","axis":null},"y":{"datum":1520}}},
  {"data":{"values":[{}]},"mark":{"type":"text","text":"N68","fontSize":35,"align":"left","baseline":"alphabetic"},"encoding":{"x":{"datum":{"year":2007,"month":5,"date":19,"hours":12},"type":"temporal","axis":null},"y":{"datum":1053}}},
  {"data":{"values":[{}]},"mark":{"type":"text","text":"N308","fontSize":35,"align":"left","baseline":"alphabetic"},"encoding":{"x":{"datum":{"year":2007,"month":5,"date":14,"hours":7},"type":"temporal","axis":null},"y":{"datum":586}}}
 ]
},
{
 "width":1132,"height":188,
 "title":{"text":"GROUNDWATER LEVEL(hno)","dx":26,"offset":-12.5},
 "layer":[
  {"data":{"name":"gwh"},"transform":[{"filter":"datum.s == 'original'"}],"mark":{"type":"line","strokeWidth":2.4},
   "encoding":{"x":{"field":"t","type":"temporal","scale":{"domain":[{"year":2007,"month":5,"date":1},{"year":2007,"month":11,"date":1}]},"axis":null},
               "y":{"field":"v","type":"quantitative","scale":{"domain":[0,1]},"axis":{"title":null,"values":[0,0.2,0.4,0.6,0.8,1]}}}},
  {"data":{"name":"gwh"},"transform":[{"filter":"datum.s == 'corrected'"}],"mark":{"type":"line","strokeWidth":1.3},
   "encoding":{"x":{"field":"t","type":"temporal","axis":null},"y":{"field":"v","type":"quantitative"}}},
  {"data":{"name":"vl"},"mark":{"type":"rule","strokeWidth":3.5},"encoding":{"x":{"field":"t","type":"temporal","axis":null}}},
  {"data":{"values":[{}]},"mark":{"type":"rule","strokeWidth":2},"encoding":{"x":{"datum":{"year":2007,"month":5,"date":1},"type":"temporal","axis":null},"x2":{"datum":{"year":2007,"month":5,"date":3,"hours":6}},"y":{"datum":1}}},
  {"data":{"values":[{}]},"mark":{"type":"rule","strokeWidth":2},"encoding":{"x":{"datum":{"year":2007,"month":5,"date":1},"type":"temporal","axis":null},"x2":{"datum":{"year":2007,"month":5,"date":3,"hours":6}},"y":{"datum":0}}},
  {"data":{"values":[{}]},"mark":{"type":"rule","strokeWidth":4},"encoding":{"x":{"datum":{"year":2007,"month":4,"date":26,"hours":18,"minutes":30},"type":"temporal","axis":null},"y":{"datum":0},"y2":{"datum":1}}},
  {"data":{"values":[{}]},"mark":{"type":"point","shape":"M0,0L1,1.5L0,1.2L-1,1.5Z","size":900,"filled":true,"opacity":1,"strokeWidth":0},"encoding":{"x":{"datum":{"year":2007,"month":4,"date":26,"hours":18,"minutes":30},"type":"temporal","axis":null},"y":{"datum":1}}},
  {"data":{"values":[{}]},"mark":{"type":"point","shape":"M0,0L1,-1.5L0,-1.2L-1,-1.5Z","size":900,"filled":true,"opacity":1,"strokeWidth":0},"encoding":{"x":{"datum":{"year":2007,"month":4,"date":26,"hours":18,"minutes":30},"type":"temporal","axis":null},"y":{"datum":0}}},
  {"data":{"values":[{}]},"mark":{"type":"text","text":"m","fontSize":46,"align":"right","baseline":"alphabetic"},"encoding":{"x":{"datum":{"year":2007,"month":4,"date":17,"hours":8},"type":"temporal","axis":null},"y":{"datum":0.806}}},
  {"data":{"values":[{}]},"mark":{"type":"text","text":"1.0","fontSize":35,"align":"right","baseline":"alphabetic"},"encoding":{"x":{"datum":{"year":2007,"month":4,"date":23,"hours":9},"type":"temporal","axis":null},"y":{"datum":0.396}}},
  {"data":{"values":[{}]},"mark":{"type":"text","text":"original","fontSize":46,"align":"left","baseline":"alphabetic"},"encoding":{"x":{"datum":{"year":2007,"month":5,"date":14,"hours":15},"type":"temporal","axis":null},"y":{"datum":0.657}}},
  {"data":{"values":[{}]},"mark":{"type":"text","text":"corrected","fontSize":46,"align":"left","baseline":"alphabetic"},"encoding":{"x":{"datum":{"year":2007,"month":5,"date":14,"hours":19},"type":"temporal","axis":null},"y":{"datum":0.12}}}
 ]
},
{
 "width":1132,"height":225,
 "title":{"text":["STRAIN(hno)","depth=270m"],"dx":-9,"offset":-28.5,"lineHeight":38},
 "layer":[
  {"data":{"name":"sth"},"mark":{"type":"line","strokeWidth":1.2},
   "encoding":{"x":{"field":"t","type":"temporal","scale":{"domain":[{"year":2007,"month":5,"date":1},{"year":2007,"month":11,"date":1}]},
                    "axis":{"offset":20,"title":"2007","titleFont":"Liberation Sans Narrow, DejaVu Sans Condensed, sans-serif","titleFontSize":25,"titlePadding":58,"labels":false,"tickSize":6,"tickWidth":1.5,"domainWidth":3,
                            "values":[{"year":2007,"month":5,"date":6},{"year":2007,"month":5,"date":13},{"year":2007,"month":5,"date":20},{"year":2007,"month":5,"date":27},{"year":2007,"month":6,"date":3},{"year":2007,"month":6,"date":10},{"year":2007,"month":6,"date":17},{"year":2007,"month":6,"date":24},{"year":2007,"month":7,"date":8},{"year":2007,"month":7,"date":15},{"year":2007,"month":7,"date":22},{"year":2007,"month":7,"date":29},{"year":2007,"month":8,"date":5},{"year":2007,"month":8,"date":12},{"year":2007,"month":8,"date":19},{"year":2007,"month":8,"date":26},{"year":2007,"month":9,"date":2},{"year":2007,"month":9,"date":9},{"year":2007,"month":9,"date":16},{"year":2007,"month":9,"date":23},{"year":2007,"month":9,"date":30},{"year":2007,"month":10,"date":7},{"year":2007,"month":10,"date":14},{"year":2007,"month":10,"date":21},{"year":2007,"month":10,"date":28}]}},
               "y":{"field":"v","type":"quantitative","scale":{"domain":[0,5000]},"axis":{"title":null,"values":[0,1000,2000,3000,4000,5000]}},
               "detail":[{"field":"s"},{"field":"p"}]}},
  {"data":{"name":"vl"},"mark":{"type":"rule","strokeWidth":3.5},"encoding":{"x":{"field":"t","type":"temporal"}}},
  {"data":{"name":"mon"},"mark":{"type":"rule","strokeWidth":1.5},"encoding":{"x":{"field":"t","type":"temporal"},"y":{"datum":-444},"y2":{"datum":-778}}},
  {"data":{"name":"mid"},"mark":{"type":"text","font":"Liberation Sans Narrow, DejaVu Sans Condensed, sans-serif","fontSize":27,"align":"center","baseline":"alphabetic"},"encoding":{"x":{"field":"t","type":"temporal"},"y":{"datum":-1589},"text":{"field":"t","type":"temporal","format":"%m"}}},
  {"data":{"values":[{}]},"mark":{"type":"rule","strokeWidth":4},"encoding":{"x":{"datum":{"year":2007,"month":4,"date":26,"hours":18,"minutes":30},"type":"temporal"},"y":{"datum":0},"y2":{"datum":5000}}},
  {"data":{"values":[{}]},"mark":{"type":"point","shape":"M0,0L1,1.5L0,1.2L-1,1.5Z","size":900,"filled":true,"opacity":1,"strokeWidth":0},"encoding":{"x":{"datum":{"year":2007,"month":4,"date":26,"hours":18,"minutes":30},"type":"temporal"},"y":{"datum":5000}}},
  {"data":{"values":[{}]},"mark":{"type":"point","shape":"M0,0L1,-1.5L0,-1.2L-1,-1.5Z","size":900,"filled":true,"opacity":1,"strokeWidth":0},"encoding":{"x":{"datum":{"year":2007,"month":4,"date":26,"hours":18,"minutes":30},"type":"temporal"},"y":{"datum":0}}},
  {"data":{"values":[{}]},"mark":{"type":"text","text":"10","fontSize":44,"align":"right","baseline":"alphabetic"},"encoding":{"x":{"datum":{"year":2007,"month":4,"date":11,"hours":12},"type":"temporal"},"y":{"datum":3500}}},
  {"data":{"values":[{}]},"mark":{"type":"text","text":"-9","fontSize":46,"align":"left","baseline":"alphabetic"},"encoding":{"x":{"datum":{"year":2007,"month":4,"date":14,"hours":10},"type":"temporal"},"y":{"datum":4055}}},
  {"data":{"values":[{}]},"mark":{"type":"text","text":"5000","fontSize":35,"align":"right","baseline":"alphabetic"},"encoding":{"x":{"datum":{"year":2007,"month":4,"date":23,"hours":16,"minutes":30},"type":"temporal"},"y":{"datum":2233}}},
  {"data":{"values":[{}]},"mark":{"type":"text","text":"N102","fontSize":35,"align":"left","baseline":"alphabetic"},"encoding":{"x":{"datum":{"year":2007,"month":5,"date":8,"hours":15},"type":"temporal"},"y":{"datum":3300}}},
  {"data":{"values":[{}]},"mark":{"type":"text","text":"N342","fontSize":35,"align":"left","baseline":"alphabetic"},"encoding":{"x":{"datum":{"year":2007,"month":5,"date":3,"hours":7},"type":"temporal"},"y":{"datum":1544}}},
  {"data":{"values":[{}]},"mark":{"type":"text","text":"N222","fontSize":35,"align":"left","baseline":"alphabetic"},"encoding":{"x":{"datum":{"year":2007,"month":5,"date":29,"hours":11},"type":"temporal"},"y":{"datum":989}}}
 ]
}
]
}
